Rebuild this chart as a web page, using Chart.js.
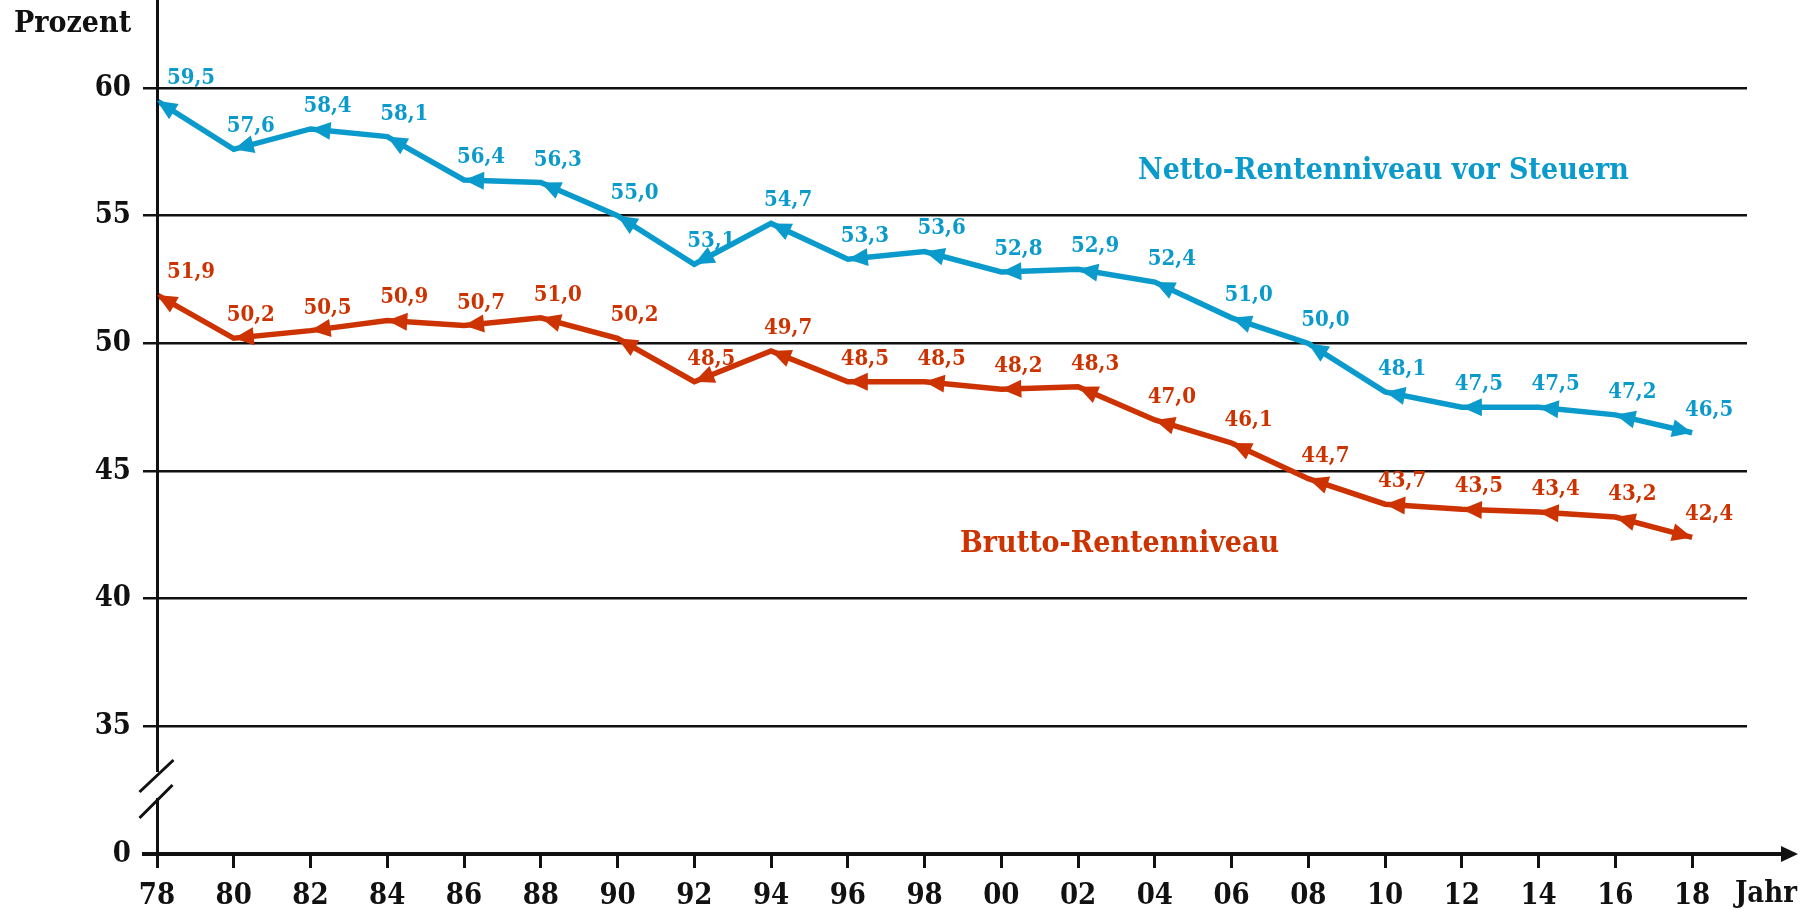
<!DOCTYPE html>
<html>
<head>
<meta charset="utf-8">
<script src="https://cdn.jsdelivr.net/npm/chart.js@4/dist/chart.umd.min.js"></script>
<style>
  html, body { margin: 0; padding: 0; background: #fff; overflow: hidden; }
  #rentenChart { display: block; }
</style>
</head>
<body>
<canvas id="rentenChart" width="1812" height="910"></canvas>
<script>
const years = [1978, 1980, 1982, 1984, 1986, 1988, 1990, 1992, 1994, 1996, 1998,
               2000, 2002, 2004, 2006, 2008, 2010, 2012, 2014, 2016, 2018];
const nettoValues = [59.5, 57.6, 58.4, 58.1, 56.4, 56.3, 55.0, 53.1, 54.7, 53.3, 53.6,
                     52.8, 52.9, 52.4, 51.0, 50.0, 48.1, 47.5, 47.5, 47.2, 46.5];
const bruttoValues = [51.9, 50.2, 50.5, 50.9, 50.7, 51.0, 50.2, 48.5, 49.7, 48.5, 48.5,
                      48.2, 48.3, 47.0, 46.1, 44.7, 43.7, 43.5, 43.4, 43.2, 42.4];
// the axis is broken: the bottom tick stands for 0
const yTickValues = [30, 35, 40, 45, 50, 55, 60];
const yTickLabels = ['0', '35', '40', '45', '50', '55', '60'];
const seriesNames = ['Netto-Rentenniveau vor Steuern', 'Brutto-Rentenniveau'];

const FONT = '"DejaVu Serif Condensed", "DejaVu Serif", serif';
const BLUE = '#0a9acb';
const RED = '#cc3300';
const INK = '#111';

function arrowHead(ctx, fromX, fromY, toX, toY, len, half, color) {
  const a = Math.atan2(toY - fromY, toX - fromX);
  ctx.save();
  ctx.translate(toX, toY);
  ctx.rotate(a);
  ctx.beginPath();
  ctx.moveTo(0, 0);
  ctx.lineTo(-len, -half);
  ctx.lineTo(-len, half);
  ctx.closePath();
  ctx.fillStyle = color;
  ctx.fill();
  ctx.restore();
}

const decorations = {
  id: 'decorations',
  afterDatasetsDraw(chart) {
    const ctx = chart.ctx;
    const ys = chart.scales.y;
    const area = chart.chartArea;
    const axisX = area.left + 0.5;
    const axisY = ys.getPixelForValue(30);

    ctx.save();
    // y axis with break
    ctx.strokeStyle = INK;
    ctx.lineWidth = 3;
    ctx.beginPath();
    ctx.moveTo(axisX, 0);
    ctx.lineTo(axisX, 772);
    ctx.moveTo(axisX, 798);
    ctx.lineTo(axisX, axisY);
    ctx.stroke();
    ctx.beginPath();
    ctx.moveTo(axisX - 18, 792);
    ctx.lineTo(axisX + 16, 760);
    ctx.moveTo(axisX - 18, 818);
    ctx.lineTo(axisX + 15, 785);
    ctx.stroke();

    // x axis with arrow
    ctx.lineWidth = 4;
    ctx.beginPath();
    ctx.moveTo(142, axisY);
    ctx.lineTo(1785, axisY);
    ctx.stroke();
    arrowHead(ctx, 1700, axisY, 1798, axisY, 17, 8, INK);

    // titles
    ctx.fillStyle = INK;
    ctx.font = 'bold 30px ' + FONT;
    ctx.textBaseline = 'middle';
    ctx.textAlign = 'left';
    ctx.fillText('Prozent', 14, 24);
    ctx.font = 'bold 29px ' + FONT;
    ctx.fillText('Jahr', 1735, 894);

    // arrows and value labels
    chart.data.datasets.forEach((ds, di) => {
      const pts = chart.getDatasetMeta(di).data;
      const col = ds.borderColor;
      for (let i = 0; i < pts.length - 1; i++) {
        arrowHead(ctx, pts[i + 1].x, pts[i + 1].y, pts[i].x, pts[i].y, 20, 9, col);
      }
      const n = pts.length - 1;
      arrowHead(ctx, pts[n - 1].x, pts[n - 1].y, pts[n].x, pts[n].y, 20, 9, col);

      ctx.font = 'bold 22px ' + FONT;
      ctx.fillStyle = col;
      ctx.textAlign = 'center';
      ctx.textBaseline = 'alphabetic';
      pts.forEach((p, i) => {
        const v = ds.data[i].y.toFixed(1).replace('.', ',');
        const dx = i === 0 ? 34 : 17;  // keep the first label clear of the axis
        ctx.fillText(v, p.x + dx, p.y - 17);
      });
    });

    // series names
    ctx.font = 'bold 30px ' + FONT;
    ctx.textAlign = 'left';
    ctx.textBaseline = 'middle';
    ctx.fillStyle = BLUE;
    ctx.fillText(seriesNames[0], 1138, 171);
    ctx.fillStyle = RED;
    ctx.fillText(seriesNames[1], 960, 544);
    ctx.restore();
  }
};

new Chart(document.getElementById('rentenChart').getContext('2d'), {
  type: 'line',
  data: {
    datasets: [
      {
        label: seriesNames[0],
        data: years.map((y, i) => ({ x: y, y: nettoValues[i] })),
        borderColor: BLUE,
        borderWidth: 5.5,
        pointRadius: 0,
        tension: 0,
        fill: false,
        borderCapStyle: 'butt'
      },
      {
        label: seriesNames[1],
        data: years.map((y, i) => ({ x: y, y: bruttoValues[i] })),
        borderColor: RED,
        borderWidth: 5.5,
        pointRadius: 0,
        tension: 0,
        fill: false,
        borderCapStyle: 'butt'
      }
    ]
  },
  options: {
    responsive: false,
    animation: false,
    devicePixelRatio: 1,
    layout: { padding: { left: 0, right: 65, top: 0, bottom: 0 } },
    plugins: { legend: { display: false }, tooltip: { enabled: false } },
    scales: {
      x: {
        type: 'linear',
        min: 1978,
        max: 2019.43,
        afterFit: s => { s.height = 56; },
        afterBuildTicks: s => { s.ticks = years.map(v => ({ value: v })); },
        border: { display: false },
        grid: { drawOnChartArea: false, color: INK, lineWidth: 3, tickLength: 14 },
        ticks: {
          color: INK,
          padding: 11,
          maxRotation: 0,
          autoSkip: false,
          font: { family: FONT, size: 29, weight: 'bold' },
          callback: v => String(v).slice(2)
        }
      },
      y: {
        min: 30,
        max: 63.45,
        afterFit: s => { s.width = 157; s.paddingTop = 0; s.paddingBottom = 0; },
        afterBuildTicks: s => { s.ticks = yTickValues.map(v => ({ value: v })); },
        border: { display: false },
        grid: {
          color: c => (c.tick && c.tick.value === 30) ? 'rgba(0,0,0,0)' : INK,
          lineWidth: 2.5,
          tickLength: 14
        },
        ticks: {
          color: INK,
          padding: 12,
          font: { family: FONT, size: 29, weight: 'bold' },
          callback: v => yTickLabels[yTickValues.indexOf(v)]
        }
      }
    }
  },
  plugins: [decorations]
});
</script>
</body>
</html>
